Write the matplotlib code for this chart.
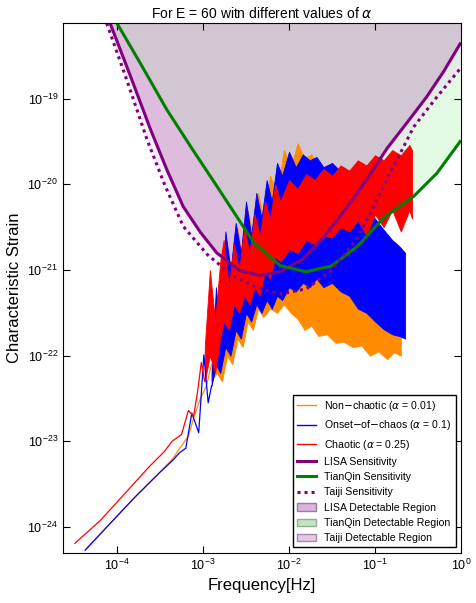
import numpy as np
import matplotlib.pyplot as plt
from matplotlib.patches import Patch
from matplotlib.lines import Line2D

plt.rcParams['font.family'] = ['Liberation Sans', 'DejaVu Sans']
plt.rcParams['mathtext.fontset'] = 'dejavusans'

# sensitivity curves (log10 f, log10 h)
lisa_lf = [-4.08, -3.85, -3.61, -3.42, -3.23, -3.03, -2.84, -2.57, -2.34, -2.1, -1.85, -1.6, -1.35, -1.1, -0.86, -0.62, -0.40, -0.2, -0.01]
lisa_lh = [-18.12, -18.72, -19.36, -19.83, -20.26, -20.56, -20.80, -21.01, -21.06, -21.02, -20.88, -20.62, -20.30, -19.95, -19.58, -19.27, -18.98, -18.68, -18.36]
taiji_lf = [-4.12, -3.88, -3.65, -3.44, -3.23, -2.95, -2.65, -2.38, -2.10, -1.8, -1.5, -1.2, -0.9, -0.55, -0.28, -0.01]
taiji_lh = [-18.12, -18.80, -19.48, -20.02, -20.49, -20.82, -21.07, -21.20, -21.28, -21.22, -21.00, -20.62, -20.02, -19.33, -18.98, -18.65]
tq_lf = [-4.0, -3.71, -3.42, -3.13, -2.84, -2.41, -2.1, -1.8, -1.5, -1.2, -0.90, -0.55, -0.28, -0.01]
tq_lh = [-18.12, -18.62, -19.13, -19.58, -20.02, -20.68, -20.95, -21.02, -20.95, -20.72, -20.39, -20.14, -19.87, -19.50]

# strain spectra: low-frequency lines (log10 f, log10 h)
red_lf = [-4.49, -4.2, -3.9, -3.62, -3.45, -3.36, -3.25, -3.17, -3.11, -3.06, -3.02, -2.98]
red_lh = [-24.19, -23.93, -23.60, -23.29, -23.12, -23.00, -22.92, -22.64, -22.71, -22.40, -22.08, -22.30]
blue_lf = [-4.37, -4.1, -3.8, -3.50, -3.35, -3.27, -3.20, -3.13, -3.05, -2.99, -2.94, -2.90]
blue_lh = [-24.27, -23.98, -23.66, -23.36, -23.22, -23.13, -23.08, -22.67, -22.90, -21.99, -22.55, -22.35]
orange_lf = [-4.37, -4.1, -3.8, -3.50, -3.35, -3.27, -3.17, -3.10, -3.03, -2.96, -2.90]
orange_lh = [-24.27, -23.98, -23.66, -23.36, -23.20, -23.08, -22.94, -22.70, -22.50, -22.35, -22.10]

# strain spectra: dense region edges (log10 f, upper, lower)
red_ef = [-2.98, -2.92, -2.86, -2.80, -2.76, -2.70, -2.64, -2.58, -2.52, -2.46, -2.40, -2.34, -2.28, -2.22, -2.16, -2.10,
          -2.0, -1.9, -1.8, -1.7, -1.6, -1.5, -1.4, -1.3, -1.2, -1.1, -1.0, -0.9, -0.8, -0.7, -0.6, -0.57]
red_up = [-21.9, -21.0, -21.6, -20.9, -20.65, -21.2, -20.7, -21.0, -20.5, -20.8, -20.35, -20.6, -20.2, -20.4, -20.0, -20.2,
          -19.95, -20.05, -19.88, -19.95, -19.82, -19.9, -19.78, -19.84, -19.72, -19.78, -19.66, -19.72, -19.6, -19.66, -19.54, -19.6]
red_lo = [-22.3, -22.0, -22.2, -21.8, -21.6, -21.7, -21.4, -21.5, -21.3, -21.4, -21.2, -21.3, -21.0, -21.1, -20.85, -20.9,
          -20.76, -20.8, -20.65, -20.7, -20.6, -20.62, -20.5, -20.55, -20.42, -20.6, -20.35, -20.5, -20.3, -20.55, -20.3, -20.4]
blue_ef = [-2.90, -2.85, -2.80, -2.74, -2.68, -2.62, -2.56, -2.50, -2.44, -2.38, -2.32, -2.26, -2.20, -2.14, -2.08, -2.0,
           -1.92, -1.84, -1.76, -1.68, -1.6, -1.5, -1.4, -1.3, -1.2, -1.1, -1.0, -0.9, -0.8, -0.72, -0.65]
blue_up = [-22.2, -21.2, -21.8, -20.55, -21.0, -20.45, -20.8, -20.2, -20.6, -20.1, -20.4, -19.95, -20.2, -19.75, -19.9, -19.62,
           -19.8, -19.65, -19.72, -19.68, -19.8, -19.75, -19.85, -19.95, -20.1, -20.26, -20.4, -20.53, -20.65, -20.72, -20.8]
blue_lo = [-22.35, -22.1, -22.2, -21.9, -22.0, -21.7, -21.8, -21.5, -21.6, -21.4, -21.5, -21.35, -21.45, -21.3, -21.35, -21.2,
           -21.25, -21.15, -21.2, -21.1, -21.2, -21.15, -21.25, -21.3, -21.45, -21.5, -21.6, -21.69, -21.75, -21.77, -21.8]
orange_ef = [-2.90, -2.84, -2.78, -2.72, -2.66, -2.60, -2.54, -2.48, -2.42, -2.36, -2.30, -2.22, -2.14, -2.06, -1.98,
             -1.90, -1.82, -1.74, -1.66, -1.56, -1.46, -1.36, -1.26, -1.16, -1.06, -0.96, -0.86, -0.78, -0.70]
orange_up = [-22.1, -21.3, -21.9, -20.7, -21.1, -20.5, -20.9, -20.3, -20.6, -20.1, -20.4, -19.9, -20.1, -19.6, -19.8,
             -19.52, -19.7, -19.65, -19.8, -19.9, -20.1, -20.3, -20.6, -20.9, -21.0, -21.1, -21.2, -21.25, -21.3]
orange_lo = [-22.3, -22.2, -22.3, -22.0, -22.1, -21.8, -21.9, -21.6, -21.7, -21.45, -21.55, -21.45, -21.5, -21.4, -21.5,
             -21.57, -21.7, -21.65, -21.77, -21.75, -21.85, -21.84, -21.9, -21.88, -22.0, -21.95, -22.04, -21.96, -22.0]

y_top = 10 ** -18.12
fig = plt.figure(figsize=(4.76, 6.03), dpi=100)
ax = fig.add_axes([0.132, 0.0834, 0.8365, 0.8780])

def p10(a):
    return 10 ** np.array(a)

ax.fill_between(p10(lisa_lf), p10(lisa_lh), y_top, color='purple', alpha=0.30, lw=0)
ax.fill_between(p10(tq_lf), p10(tq_lh), y_top, color='#90ee90', alpha=0.25, lw=0)
ax.fill_between(p10(taiji_lf), p10(taiji_lh), y_top, color='#e8d0e8', alpha=0.35, lw=0)

# sensitivity curves sit behind the spectra
ax.plot(p10(lisa_lf), p10(lisa_lh), color='purple', lw=2.2)
ax.plot(p10(tq_lf), p10(tq_lh), color='green', lw=2.2)
ax.plot(p10(taiji_lf), p10(taiji_lh), color='purple', lw=2.2, ls=(0, (1, 1.3)))

for lf, lh, ef, up, lo, c in [
        (orange_lf, orange_lh, orange_ef, orange_up, orange_lo, 'darkorange'),
        (blue_lf, blue_lh, blue_ef, blue_up, blue_lo, 'blue'),
        (red_lf, red_lh, red_ef, red_up, red_lo, 'red')]:
    ax.plot(p10(lf), p10(lh), color=c, lw=0.9)
    ax.fill_between(p10(ef), p10(up), p10(lo), color=c, lw=0.6, edgecolor=c)

ax.set_xscale('log')
ax.set_yscale('log')
ax.set_xlim(10 ** -4.63, 1)
ax.set_ylim(10 ** -24.30, y_top)
ax.minorticks_off()
ax.tick_params(direction='in', top=True, right=True, labelsize=9, length=5)
ax.set_xlabel('Frequency[Hz]', fontsize=12)
ax.set_ylabel('Characteristic Strain', fontsize=12)
ax.set_title(r'For E = 60 witn different values of $\alpha$', fontsize=10, pad=4)

handles = [
    Line2D([], [], color='darkorange', lw=1, label=r'Non$-$chaotic ($\alpha$ = 0.01)'),
    Line2D([], [], color='blue', lw=1, label=r'Onset$-$of$-$chaos ($\alpha$ = 0.1)'),
    Line2D([], [], color='red', lw=1, label=r'Chaotic ($\alpha$ = 0.25)'),
    Line2D([], [], color='purple', lw=2.2, label='LISA Sensitivity'),
    Line2D([], [], color='green', lw=2.2, label='TianQin Sensitivity'),
    Line2D([], [], color='purple', lw=2.2, ls=(0, (1, 1.3)), label='Taiji Sensitivity'),
    Patch(facecolor='#dab4da', edgecolor='#a07aa0', label='LISA Detectable Region'),
    Patch(facecolor='#c3e3c3', edgecolor='#90b090', label='TianQin Detectable Region'),
    Patch(facecolor='#e4c8e4', edgecolor='#a88aa8', label='Taiji Detectable Region'),
]
leg = ax.legend(handles=handles, loc='lower right', fontsize=7.6, fancybox=False,
                edgecolor='black', framealpha=1, handlelength=1.8)
leg.get_frame().set_linewidth(1.0)

fig.savefig('out.png', dpi=100)
